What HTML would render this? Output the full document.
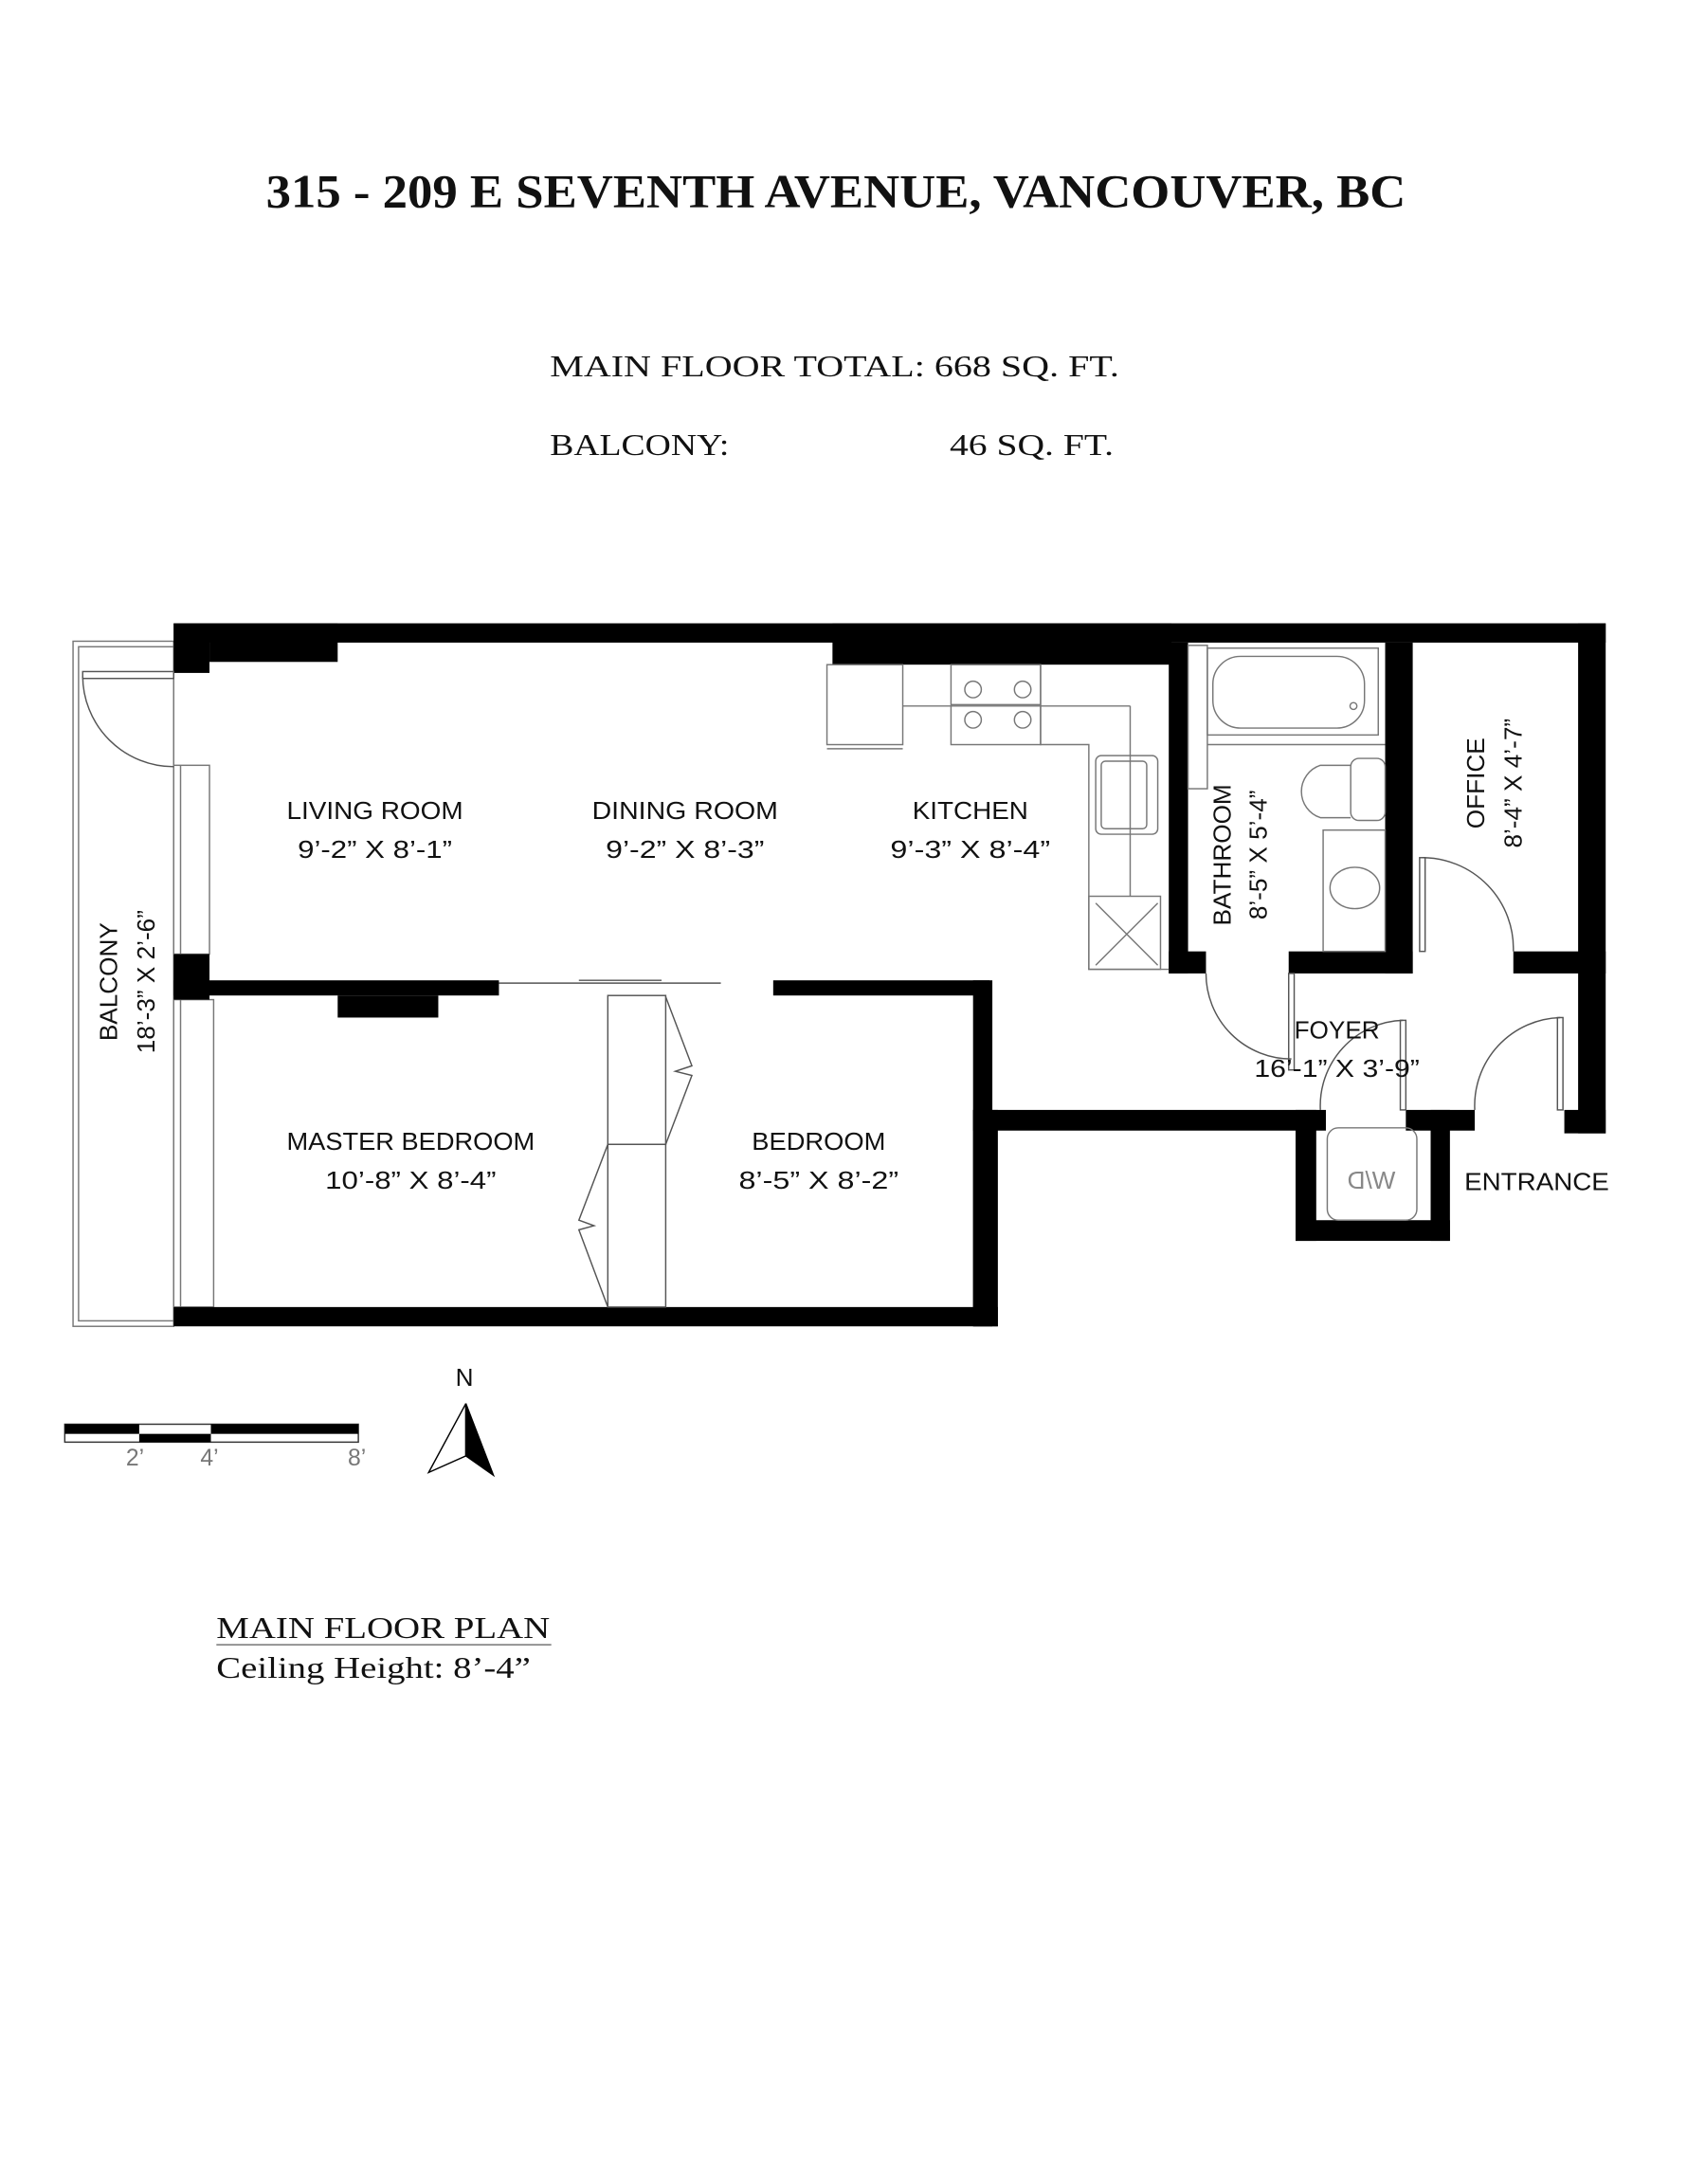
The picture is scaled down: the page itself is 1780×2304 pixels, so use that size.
<!DOCTYPE html>
<html><head><meta charset="utf-8"><style>
html,body{margin:0;padding:0;background:#fff;}
svg{display:block;}
.s{font-family:"Liberation Sans","DejaVu Sans",sans-serif;font-size:18px;fill:#111;text-anchor:middle;}
.t{font-family:"Liberation Serif",serif;fill:#111;}
.g{fill:none;stroke:#777;stroke-width:1;}
.k{fill:none;stroke:#555;stroke-width:1;}
</style></head><body>
<svg width="1780" height="2304" viewBox="0 0 1224 1584" xmlns="http://www.w3.org/2000/svg">
<rect width="1224" height="1584" fill="#fff"/>
<text class="t" x="193" y="150" font-size="34" font-weight="bold" textLength="827" lengthAdjust="spacingAndGlyphs">315 - 209 E SEVENTH AVENUE, VANCOUVER, BC</text>
<text class="t" x="399" y="273" font-size="22" textLength="413" lengthAdjust="spacingAndGlyphs">MAIN FLOOR TOTAL:  668  SQ. FT.</text>
<text class="t" x="399" y="330" font-size="22" textLength="130" lengthAdjust="spacingAndGlyphs">BALCONY:</text>
<text class="t" x="689" y="330" font-size="22" textLength="119" lengthAdjust="spacingAndGlyphs">46 SQ. FT.</text>

<!-- balcony -->
<rect x="53" y="465" width="73" height="497" class="g"/>
<rect x="57" y="469" width="69" height="489" class="g"/>
<!-- windows -->
<rect x="126" y="555" width="26" height="137" class="g"/>
<line x1="131" y1="555" x2="131" y2="692" class="g"/>
<rect x="126" y="725" width="29" height="223" class="g"/>
<line x1="131" y1="725" x2="131" y2="948" class="g"/>

<g fill="#000">
<rect x="126" y="452" width="1039" height="14"/>
<rect x="126" y="452" width="26" height="36"/>
<rect x="152" y="452" width="93" height="28"/>
<rect x="604" y="452" width="246" height="30"/>
<rect x="126" y="692" width="26" height="33"/>
<rect x="126" y="711" width="236" height="11"/>
<rect x="245" y="722" width="73" height="16"/>
<rect x="561" y="711" width="157" height="11"/>
<rect x="706" y="711" width="14" height="251"/>
<rect x="126" y="948" width="598" height="14"/>
<rect x="706" y="805" width="18" height="157"/>
<rect x="706" y="805" width="256" height="15"/>
<rect x="848" y="466" width="14" height="240"/>
<rect x="848" y="690" width="27" height="16"/>
<rect x="935" y="690" width="90" height="16"/>
<rect x="1005" y="466" width="20" height="240"/>
<rect x="1098" y="690" width="67" height="16"/>
<rect x="1145" y="452" width="20" height="370"/>
<rect x="940" y="805" width="15" height="95"/>
<rect x="940" y="885" width="112" height="15"/>
<rect x="1038" y="805" width="14" height="95"/>
<rect x="1020" y="805" width="50" height="15"/>
<rect x="1135" y="805" width="30" height="17"/>
</g>

<rect x="60" y="487" width="66" height="5" class="k"/>
<path d="M60 490 A66 66 0 0 0 126 556" class="k"/>
<line x1="362" y1="713" x2="523" y2="713" class="k"/>
<line x1="420" y1="711" x2="480" y2="711" class="k"/>

<rect x="441" y="722" width="42" height="108" class="k" stroke="#222"/>
<rect x="441" y="830" width="42" height="118" class="k" stroke="#222"/>
<polyline points="483,723 502,773 490,777 502,780 483,830" class="k" stroke="#222"/>
<polyline points="441,830 420,885 431,889 420,892 441,948" class="k" stroke="#222"/>

<rect x="600" y="482" width="55" height="58" class="g"/>
<line x1="600" y1="543" x2="655" y2="543" class="g"/>
<line x1="655" y1="512" x2="820" y2="512" class="g"/>
<rect x="690" y="482" width="65" height="58" class="g"/>
<line x1="690" y1="511" x2="755" y2="511" class="g"/>
<circle cx="706" cy="500" r="6" class="g"/><circle cx="742" cy="500" r="6" class="g"/>
<circle cx="706" cy="522" r="6" class="g"/><circle cx="742" cy="522" r="6" class="g"/>
<polyline points="755,482 755,540 790,540 790,703 848,703" class="g"/>
<line x1="820" y1="512" x2="820" y2="650" class="g"/>
<rect x="795" y="548" width="45" height="57" rx="4" class="g"/>
<rect x="799" y="552" width="33" height="49" rx="3" class="g"/>
<rect x="790" y="650" width="52" height="53" class="g"/>
<line x1="795" y1="655" x2="840" y2="700" class="g"/><line x1="840" y1="655" x2="795" y2="700" class="g"/>

<rect x="862" y="468" width="14" height="104" class="g"/>
<rect x="876" y="470" width="124" height="63" class="g"/>
<rect x="880" y="476" width="110" height="52" rx="20" class="g"/>
<circle cx="982" cy="512" r="2.5" class="g"/>
<line x1="876" y1="540" x2="1005" y2="540" class="g"/>
<rect x="980" y="550" width="25" height="45" rx="6" class="g"/>
<path d="M980 555 H958 A20 20 0 0 0 958 593 H980" class="g"/>
<rect x="960" y="602" width="45" height="88" class="g"/>
<ellipse cx="983" cy="644" rx="18" ry="15" class="g"/>

<rect x="1030" y="622" width="4" height="68" class="k"/>
<path d="M1032 622 A66 66 0 0 1 1098 690" class="k"/>
<rect x="935" y="706" width="4" height="70" class="k"/>
<path d="M875 706 A62 62 0 0 0 937 768" class="k"/>
<rect x="1016" y="740" width="4" height="65" class="k"/>
<path d="M1018 740 A62 62 0 0 0 958 805" class="k"/>
<rect x="1130" y="738" width="4" height="67" class="k"/>
<path d="M1132 738 A64 64 0 0 0 1070 805" class="k"/>
<rect x="963" y="818" width="65" height="67" rx="8" class="g"/>
<text class="s" x="995" y="862" transform="translate(1990 0) scale(-1 1)" style="fill:#888">W/D</text>

<text class="s" x="272" y="594" textLength="128" lengthAdjust="spacingAndGlyphs">LIVING ROOM</text><text class="s" x="272" y="622" textLength="112" lengthAdjust="spacingAndGlyphs">9’-2” X 8’-1”</text>
<text class="s" x="497" y="594" textLength="135" lengthAdjust="spacingAndGlyphs">DINING ROOM</text><text class="s" x="497" y="622" textLength="115" lengthAdjust="spacingAndGlyphs">9’-2” X 8’-3”</text>
<text class="s" x="704" y="594" textLength="84" lengthAdjust="spacingAndGlyphs">KITCHEN</text><text class="s" x="704" y="622" textLength="116" lengthAdjust="spacingAndGlyphs">9’-3” X 8’-4”</text>
<text class="s" x="298" y="834" textLength="180" lengthAdjust="spacingAndGlyphs">MASTER BEDROOM</text><text class="s" x="298" y="862" textLength="124" lengthAdjust="spacingAndGlyphs">10’-8” X 8’-4”</text>
<text class="s" x="594" y="834" textLength="97" lengthAdjust="spacingAndGlyphs">BEDROOM</text><text class="s" x="594" y="862" textLength="116" lengthAdjust="spacingAndGlyphs">8’-5” X 8’-2”</text>
<text class="s" x="970" y="753">FOYER</text><text class="s" x="970" y="781" textLength="120" lengthAdjust="spacingAndGlyphs">16’-1” X 3’-9”</text>
<text class="s" x="1115" y="863" textLength="105" lengthAdjust="spacingAndGlyphs">ENTRANCE</text>
<text class="s" transform="translate(893 620) rotate(-90)">BATHROOM</text>
<text class="s" transform="translate(919 620) rotate(-90)">8’-5” X 5’-4”</text>
<text class="s" transform="translate(1077 568) rotate(-90)">OFFICE</text>
<text class="s" transform="translate(1104 568) rotate(-90)">8’-4” X 4’-7”</text>
<text class="s" transform="translate(85 712) rotate(-90)">BALCONY</text>
<text class="s" transform="translate(112 712) rotate(-90)">18’-3” X 2’-6”</text>

<text class="s" x="337" y="1005" font-size="19">N</text>
<polygon points="338,1018 311,1068 338,1056" fill="#fff" stroke="#000" stroke-width="1"/>
<polygon points="338,1018 338,1056 358,1070" fill="#000" stroke="#000" stroke-width="1"/>

<rect x="47" y="1033" width="213" height="13" fill="#fff" stroke="#333" stroke-width="1"/>
<rect x="47" y="1033" width="54" height="7" fill="#000"/>
<rect x="153" y="1033" width="107" height="7" fill="#000"/>
<rect x="101" y="1040" width="52" height="6" fill="#000"/>
<text x="98" y="1063" font-family="Liberation Sans,sans-serif" font-size="17" fill="#777" text-anchor="middle">2’</text>
<text x="152" y="1063" font-family="Liberation Sans,sans-serif" font-size="17" fill="#777" text-anchor="middle">4’</text>
<text x="259" y="1063" font-family="Liberation Sans,sans-serif" font-size="17" fill="#777" text-anchor="middle">8’</text>

<text class="t" x="157" y="1188" font-size="22" textLength="242" lengthAdjust="spacingAndGlyphs">MAIN FLOOR PLAN</text>
<line x1="157" y1="1193" x2="400" y2="1193" stroke="#888" stroke-width="1.2"/>
<text class="t" x="157" y="1217" font-size="22" textLength="228" lengthAdjust="spacingAndGlyphs">Ceiling Height: 8’-4”</text>
</svg>
</body></html>
